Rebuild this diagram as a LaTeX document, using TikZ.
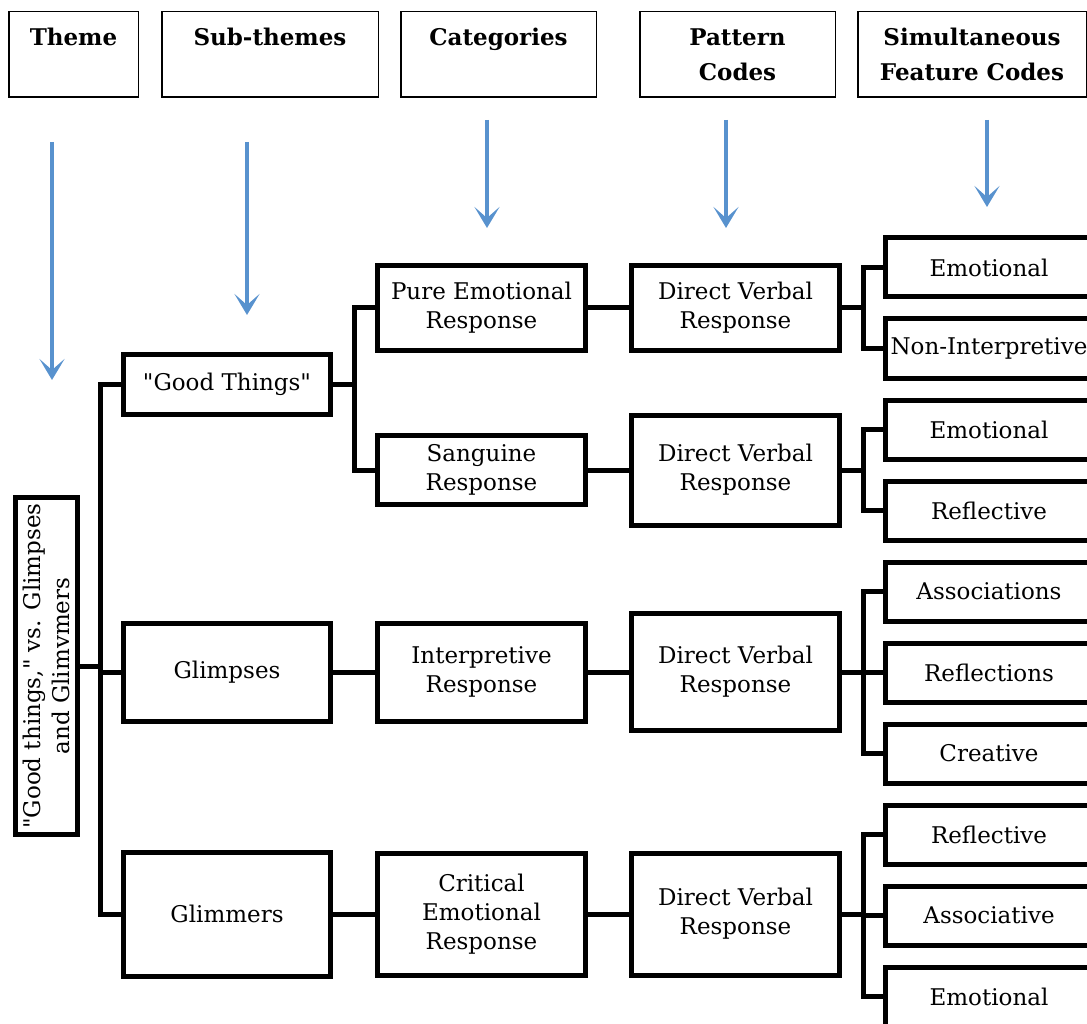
\documentclass[tikz,border=0pt]{standalone}
\usepackage{fontspec}
\newfontfamily\dejavu{DejaVu Serif}
\usepackage{tikz}
\definecolor{arrowblue}{RGB}{88,146,206}
\tikzstyle{link} = [line width=5pt]
\tikzstyle{down arrow} = [draw=arrowblue,line width=4pt,-{Stealth[length=21pt,width=25pt,inset=11pt]}]
\newcommand{\bodyfont}{\dejavu\fontsize{23}{29}\selectfont}
\newcommand{\headfont}{\dejavu\fontsize{23}{35}\selectfont\bfseries}
\usetikzlibrary{arrows.meta}
\usetikzlibrary{positioning}

\begin{document}
\begin{tikzpicture}[x=1pt,y=-1pt,node distance=17pt,
      head node/.style={draw,line width=1.5pt,inner sep=0pt,minimum height=85.5pt,align=center,font=\headfont},
      code node/.style={draw,line width=5pt,inner sep=2pt,minimum width=208pt,align=center,font=\bodyfont},
      feature node/.style={code node,inner sep=0pt,minimum width=207pt,minimum height=59pt}]

  \useasboundingbox (0,0) rectangle (1087,1024);

  % column heads
  \node[head node,minimum width=129.5pt] (H1) at (73.5,54.5) {Theme\\~};
  \node[head node,minimum width=216.5pt] (H2) at (270,54.5) {Sub-themes\\~};
  \node[head node,minimum width=195.5pt] (H3) at (498.5,54.5) {Categories\\~};
  \node[head node,minimum width=195.5pt] (H4) at (737.5,54.5) {Pattern\\Codes};
  \node[head node,minimum width=228.5pt] (H5) at (972,54.5) {Simultaneous\\Feature Codes};

  \foreach \i/\x/\t/\b in {1/52/142/380,2/247/142/315,3/487/120/228,4/726/120/228,5/987/120/207}{
    \coordinate (A\i top) at (\x,\t);
    \coordinate (A\i tip) at (\x,\b);
    \draw[down arrow] (A\i top) -- (A\i tip);
  }

  % theme
  \node[code node,rotate=90,minimum width=337pt,minimum height=62pt,inner sep=0pt] (T) at (46.5,666)
    {"Good things," vs. Glimpses\\and Glimvmers};

  % sub-themes
  \node[code node,minimum width=207pt,minimum height=60pt] (S1) at (227,384.5) {"Good Things"};
  \node[code node,minimum width=207pt,minimum height=98pt] (S2) at (227,672) {Glimpses};
  \node[code node,minimum width=207pt,minimum height=124pt] (S3) at (227,914) {Glimmers};

  % categories
  \node[code node,minimum height=85pt] (C1) at (481.5,308) {Pure Emotional\\Response};
  \node[code node,minimum height=69pt] (C2) at (481.5,470) {Sanguine\\Response};
  \node[code node,minimum height=98pt] (C3) at (481.5,672) {Interpretive\\Response};
  \node[code node,minimum height=122pt] (C4) at (481.5,914) {Critical\\Emotional\\Response};

  % pattern codes
  \node[code node,minimum height=85pt] (DVR1) at (735.5,308) {Direct Verbal\\Response};
  \node[code node,minimum height=110pt] (DVR2) at (735.5,470) {Direct Verbal\\Response};
  \node[code node,minimum height=117pt] (DVR3) at (735.5,672) {Direct Verbal\\Response};
  \node[code node,minimum height=122pt] (DVR4) at (735.5,914) {Direct Verbal\\Response};

  % simultaneous feature codes
  \node[feature node] (F1) at (989,267.5) {Emotional};
  \node[feature node] (F2) [below=of F1] {Non-Interpretive};
  \node[feature node] (F3) [below=of F2] {Emotional};
  \node[feature node] (F4) [below=of F3] {Reflective};
  \node[feature node] (F5) [below=of F4] {Associations};
  \node[feature node] (F6) [below=of F5] {Reflections};
  \node[feature node] (F7) [below=of F6] {Creative};
  \node[feature node] (F8) [below=of F7] {Reflective};
  \node[feature node] (F9) [below=of F8] {Associative};
  \node[feature node] (F10) [below=of F9] {Emotional};

  \draw[link] (T.south) -- ++(20,0);
  \draw[link] (S1.west) -- ++(-21,0) |- (S3.west);
  \draw[link] (S2.west) -- ++(-21,0);

  \draw[link] (S1.east) -- ++(21,0);
  \draw[link] (C1.west) -- ++(-21,0) |- (C2.west);
  \path[link] (S2) edge (C3) (S3) edge (C4);

  \foreach \i in {1,...,4}{\path[link] (C\i) edge (DVR\i);}
  \foreach \i in {1,...,4}{\draw[link] (DVR\i.east) -- ++(21,0);}

  \draw[link] (F1.west) -- ++(-20,0) |- (F2.west);
  \draw[link] (F3.west) -- ++(-20,0) |- (F4.west);
  \draw[link] (F5.west) -- ++(-20,0) |- (F7.west);
  \draw[link] (F6.west) -- ++(-20,0);
  \draw[link] (F8.west) -- ++(-20,0) |- (F10.west);
  \draw[link] (F9.west) -- ++(-20,0);
\end{tikzpicture}
\end{document}
